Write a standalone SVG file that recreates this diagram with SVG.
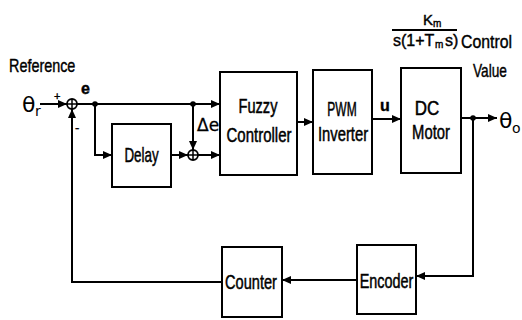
<svg xmlns="http://www.w3.org/2000/svg" width="522" height="320" viewBox="0 0 522 320">
<defs>
<marker id="ah" markerWidth="9" markerHeight="8" refX="9" refY="4" orient="auto" markerUnits="userSpaceOnUse">
<path d="M0,0 L9,4 L0,8 Z" fill="#000"/>
</marker>
<style>
.box{fill:#fff;stroke:#000;stroke-width:2}
.ln{fill:none;stroke:#000;stroke-width:2}
.t{font-family:"Liberation Sans",Arial,sans-serif;font-size:20px;fill:#000;stroke:#000;stroke-width:0.5;text-anchor:middle}
.l{font-family:"Liberation Sans",Arial,sans-serif;fill:#000;stroke:#000;stroke-width:0.4}
.sym{font-family:"DejaVu Sans","Liberation Sans",sans-serif;fill:#000}
.sum{fill:#fff;stroke:#000;stroke-width:1.8}
</style>
</defs>
<rect width="522" height="320" fill="#fff"/>

<g id="connectors">
<line class="ln" x1="40" y1="104" x2="67" y2="104" marker-end="url(#ah)"/>
<line class="ln" x1="77" y1="104" x2="220" y2="104" marker-end="url(#ah)"/>
<line class="ln" x1="193" y1="104" x2="193" y2="150" marker-end="url(#ah)"/>
<polyline class="ln" points="95,104 95,155 112,155" marker-end="url(#ah)"/>
<line class="ln" x1="171" y1="155" x2="188" y2="155" marker-end="url(#ah)"/>
<line class="ln" x1="198" y1="155" x2="220" y2="155" marker-end="url(#ah)"/>
<line class="ln" x1="297" y1="122" x2="313" y2="122" marker-end="url(#ah)"/>
<line class="ln" x1="372" y1="119" x2="401" y2="119" marker-end="url(#ah)"/>
<line class="ln" x1="461" y1="118" x2="497" y2="118" marker-end="url(#ah)"/>
<polyline class="ln" points="473,118 473,276 416,276" marker-end="url(#ah)"/>
<line class="ln" x1="357" y1="280" x2="282" y2="280" marker-end="url(#ah)"/>
<polyline class="ln" points="222,282 72,282 72,109" marker-end="url(#ah)"/>
<circle cx="95" cy="104" r="2.8" fill="#000"/>
<circle cx="193" cy="104" r="2.8" fill="#000"/>
<circle cx="473" cy="118" r="2.8" fill="#000"/>
</g>

<g id="sum1">
<circle class="sum" cx="72" cy="104" r="5"/>
<path d="M67,104 H77 M72,99 V109" stroke="#000" stroke-width="1.5"/>
<text class="l" x="54" y="100" style="font-size:11px">+</text>
<text class="l" x="75" y="132" style="font-size:13px">-</text>
</g>

<g id="sum2">
<circle class="sum" cx="193" cy="155" r="5"/>
<path d="M188,155 H198 M193,150 V160" stroke="#000" stroke-width="1.5"/>
</g>

<g id="delay">
<rect class="box" x="112" y="124" width="59" height="63"/>
<text class="t" transform="translate(141.5,162) scale(0.67,1)">Delay</text>
</g>

<g id="fuzzy">
<rect class="box" x="220" y="72" width="77" height="103"/>
<text class="t" transform="translate(258,113) scale(0.73,1)">Fuzzy</text>
<text class="t" transform="translate(259,142) scale(0.75,1)">Controller</text>
</g>

<g id="pwm">
<rect class="box" x="313" y="70" width="59" height="104"/>
<text class="t" transform="translate(342,116) scale(0.6,1)">PWM</text>
<text class="t" transform="translate(343,141) scale(0.74,1)">Inverter</text>
</g>

<g id="motor">
<rect class="box" x="401" y="68" width="60" height="105"/>
<text class="t" transform="translate(427,115) scale(0.85,1)">DC</text>
<text class="t" transform="translate(431,139) scale(0.74,1)">Motor</text>
</g>

<g id="encoder">
<rect class="box" x="357" y="245" width="59" height="69"/>
<text class="t" transform="translate(386.5,288) scale(0.72,1)">Encoder</text>
</g>

<g id="counter">
<rect class="box" x="222" y="247" width="60" height="70"/>
<text class="t" transform="translate(251,289) scale(0.73,1)">Counter</text>
</g>

<g id="labels">
<text class="l" transform="translate(9,72) scale(0.8,1)" style="font-size:18px">Reference</text>
<text class="sym" x="22" y="112" style="font-size:22px">θ</text>
<text class="sym" x="35" y="116" style="font-size:14px">r</text>
<text class="l" x="81" y="94" style="font-size:16px;font-weight:bold">e</text>
<text class="sym" x="197" y="131" style="font-size:17px" stroke="#000" stroke-width="0.3">Δe</text>
<text class="l" x="380" y="111" style="font-size:16px;font-weight:bold">u</text>
<text class="sym" x="499" y="128" style="font-size:22px">θ</text>
<text class="sym" x="512" y="133" style="font-size:14px">o</text>
<text class="l" x="423" y="25" style="font-size:15px">K</text>
<text class="l" x="433" y="27" style="font-size:10px">m</text>
<line x1="392" y1="30" x2="457" y2="30" stroke="#000" stroke-width="1.8"/>
<text class="l" x="393" y="46" style="font-size:16px">s(1+T</text>
<text class="l" x="435" y="48" style="font-size:10px">m</text>
<text class="l" x="445" y="46" style="font-size:16px">s)</text>
<text class="l" transform="translate(461,48) scale(0.88,1)" style="font-size:18px">Control</text>
<text class="l" transform="translate(473,77) scale(0.76,1)" style="font-size:18px">Value</text>
</g>
</svg>
